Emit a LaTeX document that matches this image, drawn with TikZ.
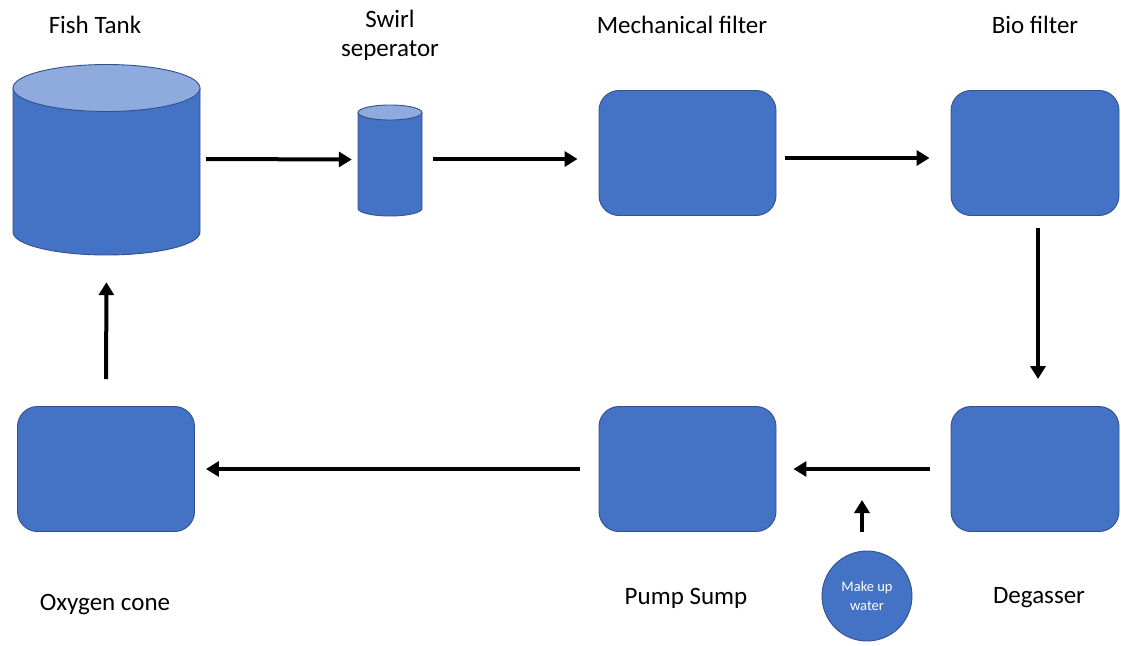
\documentclass[tikz,border=0pt]{standalone}
\usepackage{fontspec}
\setmainfont{Carlito}
\usetikzlibrary{arrows.meta}
\definecolor{boxfill}{HTML}{4472C4}
\definecolor{boxline}{HTML}{2F528F}
\definecolor{toplight}{HTML}{8FAADC}
\tikzset{
  unit/.style={draw=boxline, fill=boxfill, line width=0.9pt, rounded corners=20pt,
    minimum width=177pt, minimum height=125pt, inner sep=0pt},
  lbl/.style={font=\fontsize{25}{29}\selectfont, align=center, inner sep=0pt},
  arr/.style={line width=4pt, -{Triangle[length=13pt,width=15pt]}},
  cyl/.style={draw=boxline, line width=0.9pt}
}
\begin{document}
\begin{tikzpicture}[x=1pt,y=-1pt]
\useasboundingbox (0,0) rectangle (1121,645);
% Fish tank cylinder
\draw[cyl, fill=boxfill] (13,88) -- (13,232) arc[start angle=180, end angle=360, x radius=93.5pt, y radius=23pt] -- (200,88) -- cycle;
\draw[cyl, fill=toplight] (106.5,88) ellipse[x radius=93.5pt, y radius=23.5pt];
\node[inner sep=0pt, minimum width=187pt, minimum height=190pt] (tank) at (106.5,160) {};
% Swirl separator cylinder
\draw[cyl, fill=boxfill] (358,112.5) -- (358,208.5) arc[start angle=180, end angle=360, x radius=32pt, y radius=7.5pt] -- (422,112.5) -- cycle;
\draw[cyl, fill=toplight] (390,112.5) ellipse[x radius=32pt, y radius=7.5pt];
\node[inner sep=0pt, minimum width=64pt, minimum height=111pt] (swirl) at (390,160.5) {};
% Boxes
\node[unit] (mech) at (687.5,153) {};
\node[unit, minimum width=168pt] (bio) at (1035,153) {};
\node[unit, minimum width=168pt] (degas) at (1035,469) {};
\node[unit] (pump) at (687.5,469) {};
\node[unit] (oxy) at (106,469) {};
% Make up water
\node[circle, draw=boxline, fill=boxfill, line width=0.9pt, minimum size=90pt, inner sep=0pt,
  text=white, font=\fontsize{14.5}{19}\selectfont, align=center] (water) at (867,596) {Make up\\water};
% Labels
\node[lbl] (l1) at (95,25) {Fish Tank};
\node[lbl] (l2) at (390,35) {Swirl\\seperator};
\node[lbl] (l3) at (682,25) {Mechanical filter};
\node[lbl] (l4) at (1035,25) {Bio filter};
\node[lbl] (l5) at (105,605) {Oxygen cone};
\node[lbl] (l6) at (686,598) {Pump Sump};
\node[lbl] (l7) at (1039,598) {Degasser};
% Arrows
\draw[arr, shorten <=6pt, shorten >=6pt] ([yshift=1pt]tank.east) -- ([yshift=1pt]swirl.west);
\draw[arr, shorten <=11pt, shorten >=21pt] ([yshift=1.5pt]swirl.east) -- ([yshift=1.5pt]swirl.east -| mech.west);
\draw[arr, shorten <=9pt, shorten >=21pt] ([yshift=-5pt]mech.east) -- ([yshift=-5pt]bio.west);
\draw[arr, shorten <=12pt, shorten >=27pt] ([xshift=3pt]bio.south) -- ([xshift=3pt]degas.north);
\draw[arr, shorten <=21pt, shorten >=17pt] (degas.west) -- (pump.east);
\draw[arr, shorten <=19pt, shorten >=11pt] (pump.west) -- (oxy.east);
\draw[arr, shorten <=27pt, shorten >=27pt] (oxy.north) -- (tank.south);
\draw[arr, shorten <=19pt, shorten >=31pt] ([xshift=-5pt]water.north) -- ([xshift=-5pt]water.north |- pump.center);
\end{tikzpicture}
\end{document}
